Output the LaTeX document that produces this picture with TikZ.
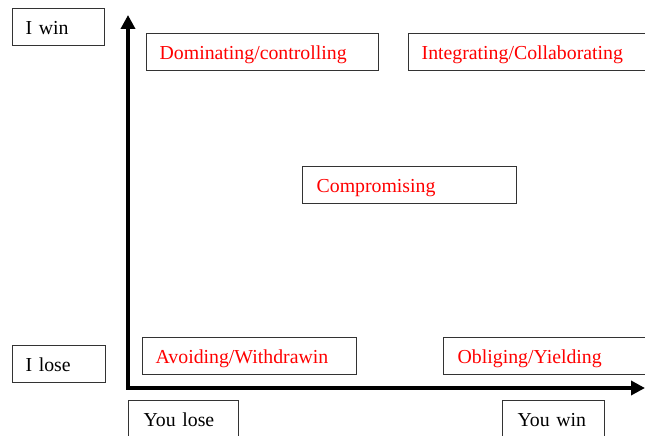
\documentclass[tikz,border=0pt]{standalone}
\usepackage{fontspec}
\setmainfont{Liberation Serif}
\usetikzlibrary{arrows.meta}
\definecolor{boxline}{HTML}{333333}
\definecolor{labred}{HTML}{FF0000}
\tikzset{
  box/.style={draw=boxline, line width=1.3bp, rectangle, anchor=north west,
    minimum height=37bp, inner ysep=0pt, inner xsep=13bp, align=left,
    text height=19bp, text depth=4bp,
    font=\fontsize{19.8bp}{22bp}\selectfont},
  axislab/.style={box, text=black},
  style/.style={box, text=labred},
  axis/.style={line width=4.2bp, line join=miter,
    {Triangle[length=14bp,width=14bp]}-{Triangle[length=14bp,width=14bp]}}
}
\begin{document}
\begin{tikzpicture}[x=1bp,y=-1bp]
\clip (0,0) rectangle (645,436);
\fill[white] (0,0) rectangle (645,436);
% axis labels
\node[axislab, minimum width=92bp, text width=66bp] (iwin) at (12,8) {I win};
\node[axislab, minimum width=93bp, text width=67bp] (ilose) at (12,345) {I lose};
\node[axislab, minimum width=110bp, inner xsep=15bp, text width=80bp] (youlose) at (128,400) {You lose};
\node[axislab, minimum width=102bp, inner xsep=15bp, text width=72bp] (youwin) at (502,400) {You win};
% styles
\node[style, minimum width=232bp, text width=206bp] (dom) at (146,33) {Dominating/controlling};
\node[style, minimum width=260bp, text width=234bp] (integ) at (408,33) {Integrating/Collaborating};
\node[style, minimum width=214bp, inner xsep=14bp, text width=186bp] (comp) at (302,166) {Compromising};
\node[style, minimum width=214bp, text width=188bp] (avoid) at (142,337) {Avoiding/Withdrawin};
\node[style, minimum width=230bp, inner xsep=14bp, text width=202bp] (oblig) at (443,337) {Obliging/Yielding};
% axes
\coordinate (O) at (128,388);
\coordinate (ytip) at (128,15);
\coordinate (xtip) at (645,388);
\draw[axis] (ytip) -- (O) -- (xtip);
\end{tikzpicture}
\end{document}
